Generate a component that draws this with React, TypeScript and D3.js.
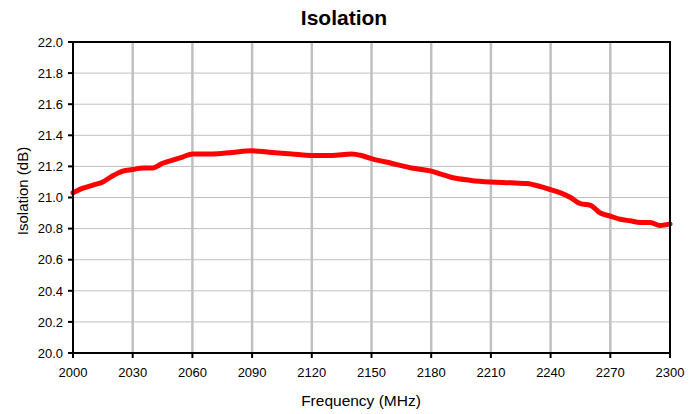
import React from 'react';
import * as d3 from 'd3';

const freqs = [2000, 2005, 2010, 2015, 2020, 2025, 2030, 2035, 2040, 2045, 2050, 2055, 2060, 2070, 2080, 2090, 2100, 2110, 2120, 2130, 2140, 2145, 2150, 2160, 2170, 2180, 2185, 2190, 2200, 2210, 2220, 2228, 2235, 2240, 2245, 2250, 2255, 2260, 2265, 2270, 2275, 2280, 2285, 2290, 2295, 2300];
const isolation = [21.03, 21.06, 21.08, 21.1, 21.14, 21.17, 21.18, 21.19, 21.19, 21.22, 21.24, 21.26, 21.28, 21.28, 21.29, 21.3, 21.29, 21.28, 21.27, 21.27, 21.28, 21.27, 21.25, 21.22, 21.19, 21.17, 21.15, 21.13, 21.11, 21.1, 21.095, 21.09, 21.07, 21.05, 21.03, 21.0, 20.96, 20.95, 20.9, 20.88, 20.86, 20.85, 20.84, 20.84, 20.82, 20.83];
const xTicks = [2000, 2030, 2060, 2090, 2120, 2150, 2180, 2210, 2240, 2270, 2300];
const yTicks = [20.0, 20.2, 20.4, 20.6, 20.8, 21.0, 21.2, 21.4, 21.6, 21.8, 22.0];

const W = 700, H = 414;
const left = 73, right = 670, top = 42, bottom = 353;
const font = "'Liberation Sans', Arial, sans-serif";

export default function App() {
  const x = d3.scaleLinear().domain([2000, 2300]).range([left, right]);
  const y = d3.scaleLinear().domain([20, 22]).range([bottom, top]);
  const pts: [number, number][] = freqs.map((f, i) => [f, isolation[i]]);
  const line = d3.line<[number, number]>()
    .x(d => x(d[0]))
    .y(d => y(d[1]))
    .curve(d3.curveMonotoneX);

  return (
    <svg width={W} height={H} style={{ position: 'absolute', left: 0, top: 0, background: '#fff' }} fontFamily={font}>
      <text x={344} y={25} textAnchor="middle" fontSize={21} fontWeight="bold">Isolation</text>
      {yTicks.slice(1, -1).map(t => (
        <line key={'h' + t} x1={left} x2={right} y1={y(t)} y2={y(t)} stroke="#c0c0c0" strokeWidth={1} />
      ))}
      {xTicks.slice(1, -1).map(t => (
        <line key={'v' + t} x1={x(t)} x2={x(t)} y1={top} y2={bottom} stroke="#c0c0c0" strokeWidth={2.5} />
      ))}
      <path d={line(pts) || ''} fill="none" stroke="#ff0000" strokeWidth={5} strokeLinejoin="round" strokeLinecap="round" />
      <rect x={left} y={top} width={right - left} height={bottom - top} fill="none" stroke="#000" strokeWidth={2} />
      {yTicks.map(t => (
        <g key={'yt' + t}>
          <line x1={left - 5} x2={left} y1={y(t)} y2={y(t)} stroke="#000" strokeWidth={2} />
          <text x={left - 10} y={y(t) + 4.7} textAnchor="end" fontSize={13}>{t.toFixed(1)}</text>
        </g>
      ))}
      {xTicks.map(t => (
        <g key={'xt' + t}>
          <line x1={x(t)} x2={x(t)} y1={bottom} y2={bottom + 5} stroke="#000" strokeWidth={2} />
          <text x={x(t)} y={bottom + 24} textAnchor="middle" fontSize={13}>{t}</text>
        </g>
      ))}
      <text x={361} y={406} textAnchor="middle" fontSize={15.5}>Frequency (MHz)</text>
      <text transform={`translate(28,191) rotate(-90)`} textAnchor="middle" fontSize={15}>Isolation (dB)</text>
    </svg>
  );
}
